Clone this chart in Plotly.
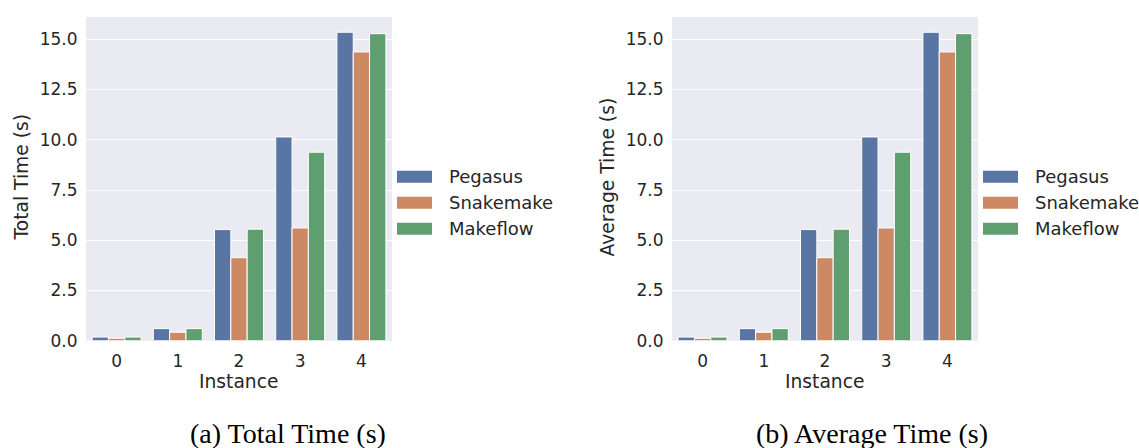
import plotly.graph_objects as go

instances = ["0", "1", "2", "3", "4"]
series_names = ["Pegasus", "Snakemake", "Makeflow"]
colors = ["#5975a4", "#cc8963", "#5f9e6e"]
total_pegasus = [0.18, 0.6, 5.53, 10.14, 15.35]
total_snakemake = [0.12, 0.42, 4.13, 5.61, 14.37]
total_makeflow = [0.18, 0.6, 5.55, 9.38, 15.28]
avg_pegasus = [0.18, 0.6, 5.53, 10.14, 15.35]
avg_snakemake = [0.12, 0.42, 4.13, 5.61, 14.37]
avg_makeflow = [0.18, 0.6, 5.55, 9.38, 15.28]
y_ticks = [0, 2.5, 5, 7.5, 10, 12.5, 15]
y_tick_labels = ["0.0", "2.5", "5.0", "7.5", "10.0", "12.5", "15.0"]
y_titles = ["Total Time (s)", "Average Time (s)"]
x_title = "Instance"
captions = ["(a) Total Time (s)", "(b) Average Time (s)"]

W, H = 1139, 448
FONT = "DejaVu Sans"
TXT = "#262626"
FS_TICK = 17
FS_LABEL = 18.7
FS_LEG = 18

panels = [
    dict(data=[total_pegasus, total_snakemake, total_makeflow], x0=86, x1=392, ax="", cap_x=288),
    dict(data=[avg_pegasus, avg_snakemake, avg_makeflow], x0=672, x1=978, ax="2", cap_x=872),
]
y_bottom, y_top = 340.7, 17
px_per_unit = (y_bottom - 39.3) / 15.0
y_max = (y_bottom - y_top) / px_per_unit

fig = go.Figure()
shapes = []
annotations = []
for pi, p in enumerate(panels):
    for si, (name, col) in enumerate(zip(series_names, colors)):
        fig.add_trace(go.Bar(
            x=instances, y=p["data"][si], name=name,
            marker=dict(color=col, line=dict(color="white", width=1)),
            xaxis="x" + p["ax"], yaxis="y" + p["ax"], showlegend=False,
        ))
    # legend (manual)
    for si, (name, col) in enumerate(zip(series_names, colors)):
        cy = 176.7 + 26 * si
        shapes.append(dict(type="rect", xref="paper", yref="paper",
                           x0=(p["x1"] + 5) / W, x1=(p["x1"] + 40) / W,
                           y0=(H - cy - 6) / H, y1=(H - cy + 6) / H,
                           fillcolor=col, line=dict(width=0)))
        annotations.append(dict(text=name, xref="paper", yref="paper",
                                x=(p["x1"] + 55) / W, y=(H - cy) / H,
                                xanchor="left", yanchor="middle", showarrow=False,
                                font=dict(family=FONT, size=FS_LEG, color=TXT)))
    annotations.append(dict(text=y_titles[pi], xref="paper", yref="paper",
                            x=(p["x0"] - 65) / W, y=(H - 177.5) / H, textangle=-90,
                            xanchor="center", yanchor="middle", showarrow=False,
                            font=dict(family=FONT, size=FS_LABEL, color=TXT)))
    annotations.append(dict(text=x_title, xref="paper", yref="paper",
                            x=(p["x0"] + p["x1"]) / 2 / W, y=(H - 381) / H,
                            xanchor="center", yanchor="middle", showarrow=False,
                            font=dict(family=FONT, size=FS_LABEL, color=TXT)))
    annotations.append(dict(text=captions[pi], xref="paper", yref="paper",
                            x=p["cap_x"] / W, y=(H - 433) / H,
                            xanchor="center", yanchor="middle", showarrow=False,
                            font=dict(family="Liberation Serif", size=28, color="black")))

common_x = dict(showgrid=False, zeroline=False, showline=False, ticks="outside", ticklen=5,
                tickcolor="rgba(0,0,0,0)", tickfont=dict(family=FONT, size=FS_TICK, color=TXT),
                range=[-0.5, 4.5], type="category", automargin=False)
common_y = dict(showgrid=True, gridcolor="white", gridwidth=1.2, zeroline=False, showline=False,
                tickvals=y_ticks, ticktext=y_tick_labels, ticks="outside", ticklen=4,
                tickcolor="rgba(0,0,0,0)", tickfont=dict(family=FONT, size=FS_TICK, color=TXT),
                range=[0, y_max], automargin=False)

layout = dict(
    width=W, height=H, margin=dict(l=0, r=0, t=0, b=0, pad=0),
    paper_bgcolor="white", plot_bgcolor="#eaeaf2",
    barmode="group", bargap=0.2, bargroupgap=0,
    shapes=shapes, annotations=annotations, showlegend=False,
    font=dict(family=FONT, color=TXT),
)
for p in panels:
    layout["xaxis" + p["ax"]] = dict(common_x, domain=[p["x0"] / W, p["x1"] / W],
                                     anchor="y" + p["ax"])
    layout["yaxis" + p["ax"]] = dict(common_y, domain=[(H - y_bottom) / H, (H - y_top) / H],
                                     anchor="x" + p["ax"])
fig.update_layout(**layout)
fig.write_html("out.html")
